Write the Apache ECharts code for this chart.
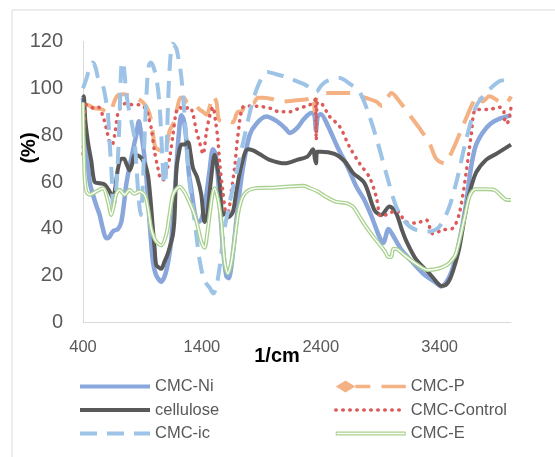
<!DOCTYPE html>
<html lang="en">

<head>
    <meta charset="UTF-8">
    <title>FTIR</title>
    <script src="https://cdn.jsdelivr.net/npm/echarts@6.0.0/dist/echarts.min.js"></script>
    <style>
        html, body { margin: 0; padding: 0; background: #fff; }
        #app { width: 555px; height: 457px; }
    </style>
</head>

<body>
    <div id="app"></div>
    <script>
        // wavenumber (1/cm), transmittance (%)
        let niData = [[400,96],[415,84],[428,76],[445,65],[460,59],[484,54.6],[512,50],[540,46],[568,40],[596,36],[620,36.5],[652,39],[694,40],[722,43],[745,51],[764,59],[785,65],[806,70],[830,76],[848,80],[870,86],[885,82],[904,76],[932,63],[960,43],[988,26],[1010,21],[1030,19],[1058,17.5],[1080,19],[1100,22],[1120,27],[1142,35],[1165,50],[1185,66],[1205,80],[1227,88.5],[1245,87],[1265,80],[1290,64],[1311,57],[1339,47],[1365,43],[1395,44],[1430,52],[1465,65],[1493,74],[1515,72],[1535,62],[1549,52],[1577,32],[1605,20],[1625,19],[1650,25],[1689,43],[1720,57],[1745,66],[1801,80],[1860,85],[1940,88],[2030,86],[2100,83],[2140,81],[2200,83],[2260,87],[2320,89.5],[2345,89],[2360,82],[2375,88],[2400,89],[2460,84],[2540,75],[2630,66],[2700,58],[2760,53],[2830,45],[2890,37],[2925,34],[2970,40],[3010,37],[3080,31],[3150,27],[3260,21],[3370,17],[3410,15.5],[3470,18.5],[3520,25],[3570,36],[3620,50],[3660,65],[3700,75],[3760,81],[3830,85],[3900,87],[4000,88.5]]
        let pData = [[400,92],[430,93],[500,91.5],[560,91],[600,90],[630,90],[660,94],[690,97],[740,97.5],[800,96.8],[848,96],[904,94],[940,91.5],[960,89],[974,86],[990,80],[1002,76],[1016,74.5],[1050,73.5],[1086,73],[1110,77],[1129,82],[1150,84],[1171,86],[1195,92],[1220,96],[1250,96],[1269,94.4],[1300,93.5],[1340,93],[1380,91],[1409,90],[1440,88.7],[1465,92],[1490,96.6],[1521,94.4],[1540,87],[1563,86],[1591,86.6],[1630,86],[1661,85.5],[1703,90],[1731,90],[1773,94],[1829,93.5],[1870,96],[1913,96],[1990,95.5],[2081,94.4],[2193,94.9],[2300,95.5],[2334,96.6],[2350,90],[2365,96],[2390,97.3],[2474,98],[2642,98],[2782,95.9],[2866,94.4],[2915,92.5],[2960,96],[2995,98],[3062,94.4],[3146,88.7],[3230,83],[3314,76.6],[3370,70],[3440,68],[3510,73.8],[3594,83.8],[3678,93.7],[3720,97.3],[3762,94.4],[3818,96.6],[3902,94.4],[3958,93.7],[4000,96.6]]
        let celluloseData = [[400,96],[406,96.6],[420,86],[445,76],[470,69],[498,60],[540,59.5],[582,59],[624,56],[652,53],[670,57],[695,66],[722,70],[745,70],[764,68],[792,65],[815,68],[834,71.6],[876,71],[918,68],[946,63],[960,57],[974,49],[988,40],[1002,32],[1016,24.6],[1040,23.5],[1058,23],[1085,26],[1110,29],[1128,32],[1156,37.5],[1170,45],[1185,65],[1205,72],[1227,76],[1250,76],[1283,77],[1305,72],[1325,66],[1360,62],[1395,54.6],[1423,43],[1445,46],[1470,58],[1490,67],[1507,71.6],[1528,67],[1549,60],[1577,46],[1605,47],[1625,45],[1661,47.4],[1690,56],[1731,67],[1787,74],[1830,73.5],[1885,72],[1969,69.5],[2100,68],[2200,69.5],[2290,71],[2335,74],[2350,70],[2360,68],[2370,73],[2400,73],[2516,72],[2600,69],[2670,64],[2768,59.5],[2852,48],[2908,46],[2978,49.6],[3034,46.7],[3080,40],[3118,35],[3202,27],[3314,21],[3380,17],[3412,15.7],[3450,16],[3490,19],[3530,25],[3566,32],[3610,45],[3650,55],[3706,64],[3790,69.5],[3874,72],[4000,76]]
        let controlData = [[400,72],[407,81],[415,88],[428,93],[456,92.5],[484,91.6],[530,92],[568,88],[596,83],[624,77],[645,76],[666,80],[694,89.5],[722,92.3],[764,93.7],[820,93],[876,93],[932,91],[955,87],[974,83],[1002,73],[1030,66],[1058,61],[1080,61],[1100,64],[1128,70],[1156,80],[1185,90],[1213,92],[1241,91],[1297,92],[1325,89],[1353,82],[1380,77],[1410,72],[1437,81],[1465,88],[1493,92],[1515,86],[1535,78],[1550,68],[1577,56],[1605,47],[1619,47],[1647,56],[1675,66],[1703,80],[1745,92],[1800,92.5],[1885,92.3],[1969,91.6],[2053,90],[2138,90],[2193,91],[2306,93],[2345,94],[2355,96.6],[2362,78],[2372,94],[2404,93.7],[2474,88],[2558,83.8],[2642,75],[2726,68],[2810,62],[2866,53.8],[2908,45.3],[2978,46.7],[3034,48],[3118,43],[3202,42.5],[3286,43.9],[3342,38],[3426,39.6],[3510,40.3],[3566,46.7],[3622,63.8],[3664,79.5],[3706,91],[3818,91],[3900,92],[3935,91],[3955,85],[3980,86],[4000,92]]
        let icData = [[400,100],[428,104],[456,108.7],[484,111],[505,109],[530,104],[568,101],[596,94],[610,89],[624,77],[640,64],[655,50],[670,52],[690,66],[705,84],[722,109],[735,111.5],[750,106],[764,98],[790,90],[815,84],[834,78],[850,66],[870,52],[885,46],[900,55],[920,82],[940,103],[955,110],[970,111],[1000,108],[1030,100],[1050,88],[1068,70],[1082,59],[1095,62],[1110,85],[1128,108],[1155,119],[1185,117],[1205,112],[1227,105],[1255,88],[1280,70],[1300,58],[1340,43],[1380,27],[1420,18],[1465,15],[1495,12.5],[1520,15],[1550,24],[1590,40],[1650,55],[1700,66],[1760,80],[1820,93],[1880,102],[1950,107],[2026,106],[2100,105],[2166,103.7],[2250,102],[2320,100],[2362,98.5],[2400,101],[2446,103],[2558,104.4],[2642,102],[2726,98.5],[2810,88],[2880,76.6],[2950,63.8],[3034,49.6],[3118,42.5],[3202,39.6],[3314,38.9],[3398,41],[3482,49.6],[3552,62.4],[3622,78],[3706,92.3],[3790,98],[3902,103],[3986,103.7]]
        let eData = [[400,94],[406,75],[414,62],[428,56],[456,54.6],[512,56],[568,57.4],[610,51.7],[638,46],[655,49],[680,55],[708,56.7],[750,54.6],[792,56.7],[830,55],[876,56],[918,54.6],[946,49],[974,40],[1000,36],[1016,34.6],[1058,33],[1100,37.5],[1128,46],[1156,54.6],[1185,57],[1213,58],[1250,56],[1290,52],[1339,46],[1370,40],[1395,34.6],[1423,32],[1445,38],[1465,46],[1490,55],[1507,57.4],[1525,55],[1545,50],[1563,43],[1591,26],[1619,21],[1640,24],[1661,30],[1703,46],[1730,52],[1759,55],[1800,56.7],[1850,57.4],[2000,57.6],[2100,58],[2255,58.4],[2300,57.6],[2374,56],[2434,54],[2523,51.7],[2614,51],[2671,49.5],[2726,45.3],[2780,41],[2838,37],[2900,33],[2939,30.5],[2969,28],[2992,28],[3010,31.5],[3034,31.5],[3087,29.5],[3150,27],[3206,25],[3296,22.5],[3385,23],[3459,24.6],[3500,26.5],[3533,29],[3570,36],[3610,45],[3652,54],[3700,57],[3741,57],[3800,57],[3860,56.7],[3920,54],[3960,52.5],[4000,52.4]]

        let xLabels = [400, 1400, 2400, 3400]
        let font = 'Liberation Sans, Arial, sans-serif'

        let mCharts = echarts.init(document.getElementById('app'))

        function line(name, data, color, width, type, extra) {
            return Object.assign({
                name: name,
                type: 'line',
                data: data,
                symbol: 'none',
                smooth: 0.3,
                color: color,
                lineStyle: { color: color, width: width, type: type },
                emphasis: { disabled: true },
                silent: true
            }, extra || {})
        }

        let legendText = { color: '#595959', fontFamily: font, fontSize: 16.5 }
        let noMark = { opacity: 0 }
        let thick = { width: 4 }

        let option = {
            animation: false,
            backgroundColor: '#fff',
            grid: { left: 83, right: 44, top: 41.5, bottom: 134.3 },
            xAxis: {
                type: 'value',
                min: 400,
                max: 4000,
                interval: 200,
                axisLine: { show: true, lineStyle: { color: '#d9d9d9', width: 1 } },
                axisTick: { show: false },
                splitLine: { show: false },
                axisLabel: {
                    color: '#595959', fontFamily: font, fontSize: 16.5, margin: 16,
                    formatter: v => xLabels.indexOf(v) >= 0 ? String(v) : ''
                }
            },
            yAxis: {
                type: 'value',
                min: 0,
                max: 120,
                interval: 20,
                axisLine: { show: true, lineStyle: { color: '#d9d9d9', width: 1 } },
                axisTick: { show: false },
                splitLine: { show: false },
                axisLabel: { color: '#595959', fontFamily: font, fontSize: 20, margin: 20 }
            },
            legend: [{
                orient: 'vertical', left: 78, top: 378, bottom: 0, padding: 0,
                itemWidth: 70, itemHeight: 14, itemGap: 6.5,
                textStyle: legendText,
                selectedMode: false,
                data: [
                    { name: 'CMC-Ni', itemStyle: noMark, lineStyle: thick },
                    { name: 'cellulose', itemStyle: noMark, lineStyle: thick },
                    { name: 'CMC-ic', itemStyle: noMark, lineStyle: thick }
                ]
            }, {
                orient: 'vertical', left: 334, top: 378, bottom: 0, padding: 0,
                itemWidth: 70, itemHeight: 14, itemGap: 6.5,
                textStyle: legendText,
                selectedMode: false,
                data: [
                    { name: 'CMC-P', icon: 'path://M0,7L10.5,0.5L21,7L10.5,13.5Z M21,5H37V9H21Z M49,5H75V9H49Z', itemStyle: { color: '#f4b183', borderWidth: 0 } },
                    { name: 'CMC-Control', itemStyle: noMark, lineStyle: { width: 3.5, type: [0.5, 6.5], cap: 'round' } },
                    { name: 'CMC-E', icon: 'path://M0,0H70V4H0Z M1,1.3V2.7H69V1.3Z', itemStyle: { color: '#a9d18e', borderWidth: 0 } }
                ]
            }],
            graphic: [
                { type: 'rect', shape: { x: 12, y: 10, width: 600, height: 500 }, style: { fill: 'none', stroke: '#d9d9d9', lineWidth: 1 }, silent: true },
                { type: 'text', x: 29, y: 148, rotation: Math.PI / 2, style: { text: '(%)', font: 'bold 20px Liberation Sans, Arial, sans-serif', fill: '#000', textAlign: 'center', textVerticalAlign: 'middle' } },
                { type: 'text', x: 277, y: 356, style: { text: '1/cm', font: 'bold 20px Liberation Sans, Arial, sans-serif', fill: '#000', textAlign: 'center', textVerticalAlign: 'middle' } }
            ],
            series: [
                line('CMC-Ni', niData, '#8aa7dc', 4.5, 'solid'),
                line('CMC-P', pData, '#f4b183', 4, [24, 11]),
                line('cellulose', celluloseData, '#595959', 4, 'solid'),
                line('CMC-Control', controlData, '#dc5a5a', 3.5, [0.5, 6.5], { lineStyle: { color: '#dc5a5a', width: 3.5, type: [0.5, 6.5], cap: 'round' } }),
                line('CMC-ic', icData, '#9dc3e6', 4, [17, 10]),
                line('CMC-E', eData, '#a9d18e', 4, 'solid'),
                line('CMC-E-inner', eData, '#ffffff', 1.4, 'solid')
            ]
        }
        mCharts.setOption(option)
    </script>
</body>

</html>
